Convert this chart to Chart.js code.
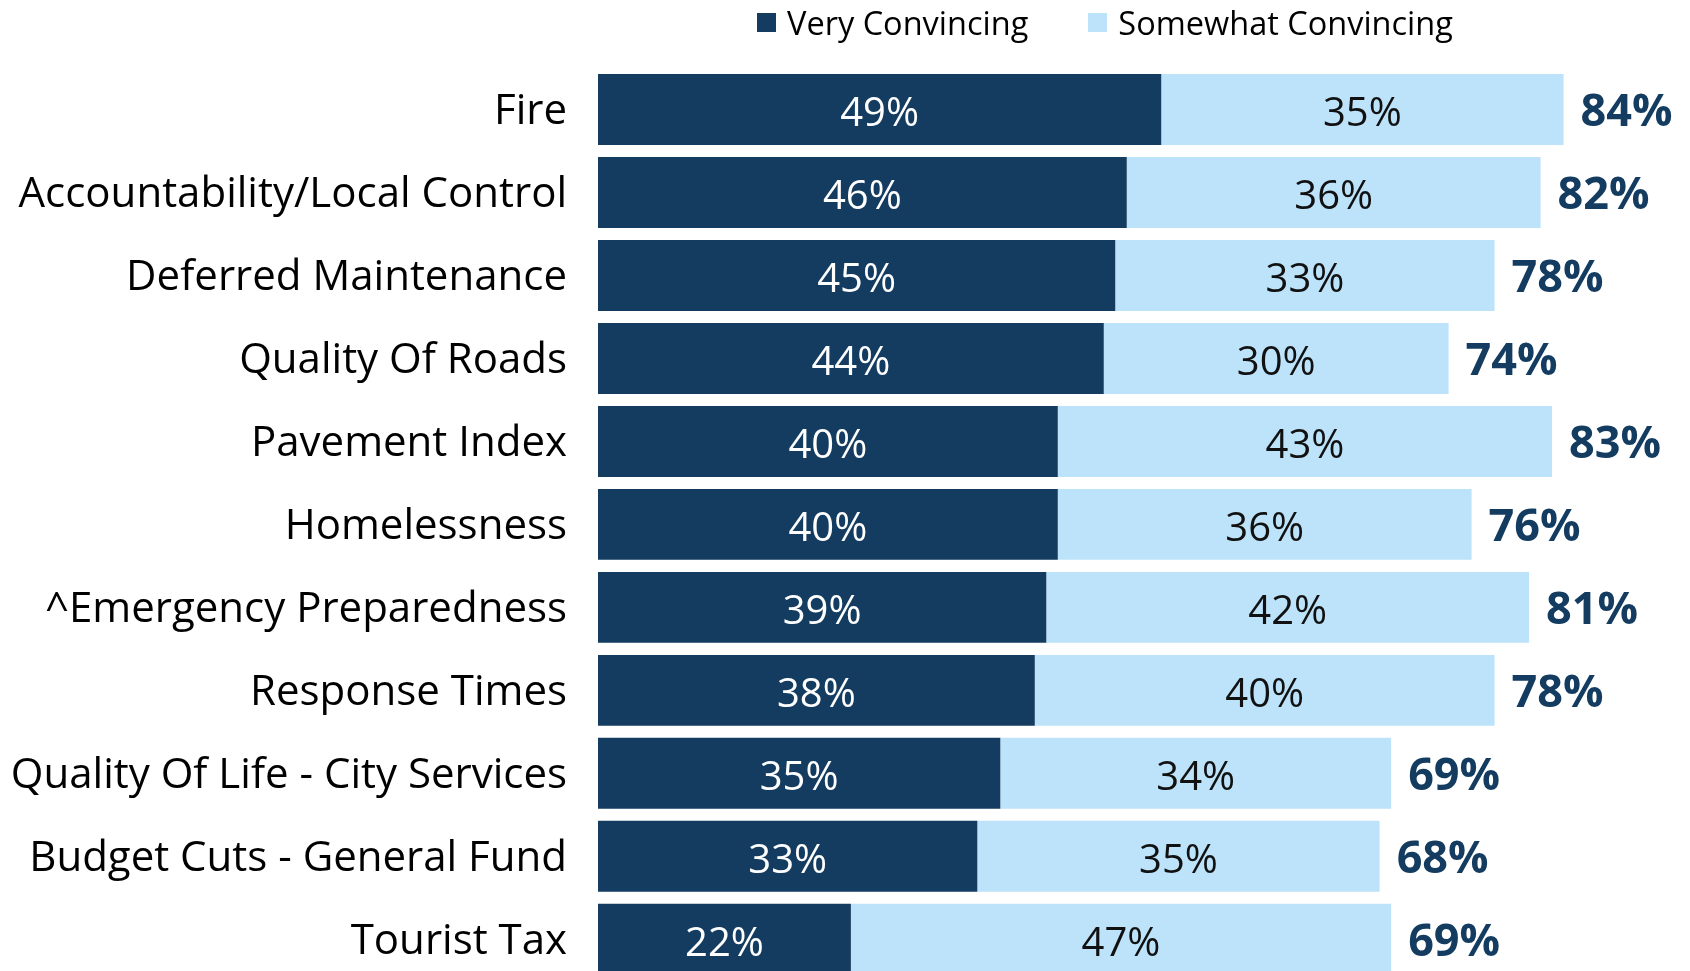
<!DOCTYPE html>
<html>
<head>
<meta charset="utf-8">
<script src="https://cdn.jsdelivr.net/npm/chart.js@4.4.1/dist/chart.umd.min.js"></script>
<style>
  html, body { margin: 0; padding: 0; background: #fff; overflow: hidden; }
  #wrap { position: relative; width: 1690px; height: 1037px; }
  #legend {
    position: absolute; top: 0px; left: 757px;
    display: flex; align-items: center;
    font-family: "Open Sans", sans-serif; font-size: 32.5px; color: #000;
  }
  #legend .item { display: flex; align-items: center; margin-right: 60px; }
  #legend .box { width: 19px; height: 19px; margin-right: 11px; }
  canvas { display: block; }
</style>
</head>
<body>
<div id="wrap">
  <div id="legend"></div>
  <canvas id="convincingChart" width="1690" height="1037"></canvas>
</div>
<script>
// ---- data ----
const categories = [
  "Fire",
  "Accountability/Local Control",
  "Deferred Maintenance",
  "Quality Of Roads",
  "Pavement Index",
  "Homelessness",
  "^Emergency Preparedness",
  "Response Times",
  "Quality Of Life - City Services",
  "Budget Cuts - General Fund",
  "Tourist Tax"
];
const veryConvincing     = [49, 46, 45, 44, 40, 40, 39, 38, 35, 33, 22];
const somewhatConvincing = [35, 36, 33, 30, 43, 36, 42, 40, 34, 35, 47];
const totalConvincing    = [84, 82, 78, 74, 83, 76, 81, 78, 69, 68, 69];
const seriesNames = ["Very Convincing", "Somewhat Convincing"];

const NAVY = "#133C60";
const LIGHT = "#BDE3FB";
const FONT = '"Open Sans", sans-serif';

// labels inside segments + totals at the end of each bar
const barLabels = {
  id: "barLabels",
  afterDatasetsDraw(chart) {
    const { ctx } = chart;
    ctx.save();
    ctx.textBaseline = "middle";
    ctx.textAlign = "center";
    ctx.font = "40px " + FONT;
    chart.data.datasets.forEach((ds, di) => {
      const meta = chart.getDatasetMeta(di);
      meta.data.forEach((bar, i) => {
        const x = (bar.base + bar.x) / 2;
        ctx.fillStyle = di === 0 ? "#ffffff" : "#111111";
        ctx.fillText(ds.data[i] + "%", x, bar.y + 5);
      });
    });
    const last = chart.getDatasetMeta(chart.data.datasets.length - 1);
    ctx.textAlign = "left";
    ctx.font = "bold 45px " + FONT;
    ctx.fillStyle = NAVY;
    last.data.forEach((bar, i) => {
      ctx.fillText(totalConvincing[i] + "%", bar.x + 17, bar.y + 4);
    });
    ctx.restore();
  }
};

const colors = [NAVY, LIGHT];

// html legend
const legendEl = document.getElementById("legend");
seriesNames.forEach((name, i) => {
  const item = document.createElement("div");
  item.className = "item";
  item.innerHTML = '<span class="box" style="background:' + colors[i] + '"></span><span>' + name + "</span>";
  legendEl.appendChild(item);
});

new Chart(document.getElementById("convincingChart"), {
  type: "bar",
  data: {
    labels: categories,
    datasets: [
      { label: seriesNames[0], data: veryConvincing, backgroundColor: NAVY },
      { label: seriesNames[1], data: somewhatConvincing, backgroundColor: LIGHT }
    ]
  },
  options: {
    indexAxis: "y",
    responsive: false,
    animation: false,
    layout: { padding: { top: 68, bottom: 0, left: 0, right: 0 } },
    datasets: { bar: { categoryPercentage: 1, barPercentage: 0.855 } },
    scales: {
      x: { stacked: true, display: false, min: 0, max: 95 },
      y: {
        stacked: true,
        grid: { display: false, drawTicks: false },
        border: { display: false },
        ticks: { color: "#000", padding: 31, labelOffset: 3, font: { family: FONT, size: 42 } },
        afterFit(scale) { scale.width = 598; }
      }
    },
    plugins: {
      legend: { display: false },
      tooltip: { enabled: false }
    }
  },
  plugins: [barLabels]
});
</script>
</body>
</html>
